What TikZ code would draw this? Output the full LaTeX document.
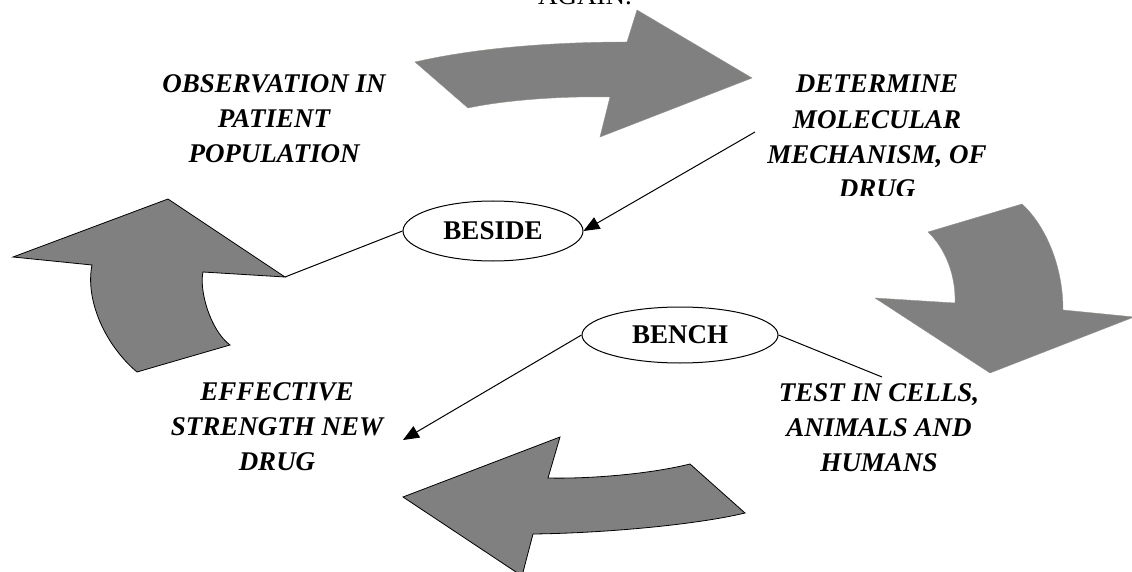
\documentclass[tikz,border=0pt]{standalone}
\usepackage{fontspec}
\setmainfont{Liberation Serif}
\usetikzlibrary{shapes.geometric,arrows.meta}
\definecolor{arrowgray}{RGB}{128,128,128}
\definecolor{softedge}{RGB}{150,145,135}
\tikzset{
  bigarrow/.style={fill=arrowgray},
  plainarrow/.style={bigarrow, draw=softedge, line width=0.4pt},
  outlinearrow/.style={bigarrow, draw=black, line width=0.8pt},
  label/.style={font=\bfseries\itshape\fontsize{27}{35}\selectfont, align=center, inner sep=0pt, anchor=base},
  oval/.style={ellipse, draw=black, line width=1pt, font=\bfseries\fontsize{27}{30}\selectfont, inner sep=0pt},
  conn/.style={draw=black, line width=1pt},
  tip/.style={conn, -{Triangle[length=16pt,width=13pt]}}
}
\begin{document}
\begin{tikzpicture}[x=1pt,y=-1pt]
\useasboundingbox (0,0) rectangle (1132,572);
\clip (0,0) rectangle (1132,572);
% top caption fragment (cut by the upper edge, as in the reference)
\node[font=\fontsize{27}{30}\selectfont, inner sep=0pt, anchor=base] (again) at (585,5) {AGAIN.};
% big curved arrows
\path[plainarrow] (415,62) .. controls (480,47) and (560,42) .. (627,42) -- (637,10) -- (752,78) -- (600,137) -- (610,97) .. controls (570,96) and (510,99) .. (468,108) -- cycle;
\path[plainarrow] (928,232) -- (1022,204) .. controls (1045,225) and (1063,265) .. (1063,310) -- (1134,317) -- (990,373) -- (875,298) -- (955,303) .. controls (956,275) and (945,248) .. (928,232) -- cycle;
\path[outlinearrow] (403,497) -- (560,437) -- (548,478) .. controls (590,479) and (650,474) .. (690,464) -- (745,513) .. controls (700,524) and (610,533) .. (533,534) -- (522,576) -- cycle;
\path[outlinearrow] (13,257) -- (168,199) -- (285,277) -- (203,272) .. controls (199,290) and (210,330) .. (230,345) -- (137,372) .. controls (105,345) and (85,300) .. (92,265) -- cycle;
% text blocks (anchor=base is the baseline of the last line)
\node[label] (obs) at (274,163) {OBSERVATION IN\\PATIENT\\POPULATION};
\begin{scope}
\clip (700,40) rectangle (1050,196);
\node[label] (det) at (877,198) {DETERMINE\\MOLECULAR\\MECHANISM, OF\\DRUG};
\end{scope}
\node[label] (eff) at (277,470) {EFFECTIVE\\STRENGTH NEW\\DRUG};
\node[label] (test) at (879,471) {TEST IN CELLS,\\ANIMALS AND\\HUMANS};
% ovals
\node[oval, minimum width=180pt, minimum height=60pt] (beside) at (493,231) {BESIDE};
\node[oval, minimum width=196pt, minimum height=56pt] (bench) at (680,335) {BENCH};
% connector ends
\coordinate (lefthead) at (285,277);
\coordinate (detend) at (755,132);
\coordinate (testend) at (882,377);
\coordinate (effend) at (403,440);
\draw[conn] (lefthead) -- (beside.west);
\draw[tip] (detend) -- (beside.east);
\draw[conn] (bench.east) -- (testend);
\draw[tip] (bench.west) -- (effend);
\end{tikzpicture}
\end{document}
